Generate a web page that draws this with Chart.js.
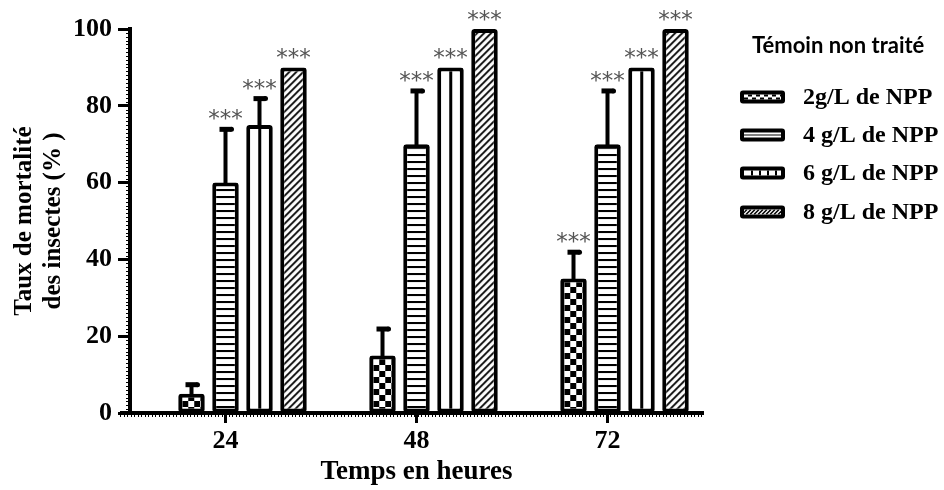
<!DOCTYPE html>
<html><head><meta charset="utf-8">
<script src="https://cdn.jsdelivr.net/npm/chart.js@4/dist/chart.umd.min.js"></script>
<style>html,body{margin:0;padding:0;background:#fff}#wrap{width:944px;height:490px;position:relative}</style>
</head><body><div id="wrap"><canvas id="c" width="944" height="490"></canvas></div>
<script>
// ---------- data ----------
const categories = ['24', '48', '72'];
const seriesNames = ['Témoin non traité', '2g/L de NPP', '4 g/L de NPP', '6 g/L de NPP', '8 g/L de NPP'];
const temoin = [0, 0, 0];
const npp2 = [5, 15, 35];
const npp4 = [60, 70, 70];
const npp6 = [75, 90, 90];
const npp8 = [90, 100, 100];
const err2 = [2.5, 7, 7];
const err4 = [14, 14, 14];
const err6 = [7, 0, 0];
const err8 = [0, 0, 0];
const stars2 = ['', '', '***'];
const stars4 = ['***', '***', '***'];
const stars6 = ['***', '***', '***'];
const stars8 = ['***', '***', '***'];
const yTicks = [0, 20, 40, 60, 80, 100];
const xTitle = 'Temps en heures';
const yTitle = ['Taux de mortalité', 'des insectes (% )'];

// ---------- styling ----------
const SERIF = '"Liberation Serif", "Times New Roman", serif';
const CAT_PCT = 0.89, BAR_PCT = 0.78, BORDER = 4;

function makePattern(kind) {
  const c = document.createElement('canvas');
  let g;
  if (kind === 'checker') {
    c.width = 12; c.height = 12; g = c.getContext('2d');
    g.fillStyle = '#fff'; g.fillRect(0, 0, 12, 12);
    g.fillStyle = '#000'; g.fillRect(0, 0, 6, 6); g.fillRect(6, 6, 6, 6);
  } else if (kind === 'hlines') {
    c.width = 4; c.height = 7; g = c.getContext('2d');
    g.fillStyle = '#fff'; g.fillRect(0, 0, 4, 7);
    g.fillStyle = '#000'; g.fillRect(0, 0, 4, 2);
  } else if (kind === 'vline') {
    c.width = 19; c.height = 4; g = c.getContext('2d');
    g.fillStyle = '#fff'; g.fillRect(0, 0, 19, 4);
    g.fillStyle = '#000'; g.fillRect(8, 0, 3, 4);
  } else {
    c.width = 7; c.height = 7; g = c.getContext('2d');
    g.fillStyle = '#fff'; g.fillRect(0, 0, 7, 7);
    g.strokeStyle = '#000'; g.lineWidth = 1.8;
    g.beginPath();
    g.moveTo(-1, 8); g.lineTo(8, -1);
    g.moveTo(-1, 1); g.lineTo(1, -1);
    g.moveTo(6, 8); g.lineTo(8, 6);
    g.stroke();
  }
  return g.createPattern(c, 'repeat');
}

function bgFor(kind) {
  return (ctx) => {
    const p = makePattern(kind);
    const chart = ctx.chart;
    const xs = chart.scales.x, ys = chart.scales.y;
    if (!xs || !ys || ctx.dataIndex === undefined) return p;
    const cw = (xs.right - xs.left) / categories.length;
    const slot = cw * CAT_PCT / seriesNames.length;
    const cx = xs.getPixelForValue(ctx.dataIndex) + (ctx.datasetIndex - (seriesNames.length - 1) / 2) * slot;
    const bw = slot * BAR_PCT;
    const left = cx - bw / 2 + BORDER;
    const base = ys.getPixelForValue(0);
    try { p.setTransform(new DOMMatrix().translate(left, base)); } catch (e) {}
    return p;
  };
}

const values = [npp2, npp4, npp6, npp8];
const errors = [err2, err4, err6, err8];
const stars = [stars2, stars4, stars6, stars8];
const kinds = ['checker', 'hlines', 'vline', 'diag'];

const datasets = [{
  label: seriesNames[0], data: temoin, backgroundColor: 'rgba(0,0,0,0)', borderWidth: 0,
  categoryPercentage: CAT_PCT, barPercentage: BAR_PCT
}].concat(values.map((v, k) => ({
  label: seriesNames[k + 1], data: v,
  backgroundColor: bgFor(kinds[k]), borderColor: '#000', borderWidth: BORDER,
  borderRadius: 3, borderSkipped: false,
  categoryPercentage: CAT_PCT, barPercentage: BAR_PCT
})));

// error bars, significance stars, axis texture, legend
const extras = {
  id: 'extras',
  afterDatasetsDraw(chart) {
    const ctx = chart.ctx, ys = chart.scales.y;
    ctx.save();
    values.forEach((vals, k) => {
      const meta = chart.getDatasetMeta(k + 1);
      meta.data.forEach((el, i) => {
        const e = errors[k][i];
        const topV = vals[i] + e;
        const yTop = ys.getPixelForValue(topV);
        if (e > 0) {
          ctx.fillStyle = '#000';
          ctx.fillRect(el.x - 2, yTop, 4, el.y - yTop + 2);
          ctx.fillRect(el.x - 6, yTop - 2, 12, 5);
          ctx.beginPath(); ctx.arc(el.x + 6, yTop + 0.5, 2.5, 0, Math.PI * 2); ctx.fill();
        }
        const s = stars[k][i];
        if (s) {
          ctx.fillStyle = '#555';
          ctx.font = '23px "DejaVu Sans", sans-serif';
          ctx.textAlign = 'center'; ctx.textBaseline = 'alphabetic';
          const m = ctx.measureText(s);
          const target = yTop - 14;
          ctx.fillText(s, el.x, target + (m.actualBoundingBoxAscent - m.actualBoundingBoxDescent) / 2);
        }
      });
    });
    ctx.restore();
  },
  afterDraw(chart) {
    const ctx = chart.ctx, ys = chart.scales.y;
    const a = chart.chartArea;
    ctx.save();
    // extension of the x axis to the left
    ctx.fillStyle = '#000';
    ctx.fillRect(a.left - 10, a.bottom - 2, 12, 4);
    // fine ruler marks on axes
    ctx.strokeStyle = '#000'; ctx.lineWidth = 1;
    for (let v = 0; v <= 100; v += 1) {
      const y = Math.round(ys.getPixelForValue(v)) + 0.5;
      ctx.beginPath(); ctx.moveTo(a.left - 4, y); ctx.lineTo(a.left - 1, y); ctx.stroke();
    }
    for (let x = a.left - 10; x <= a.right; x += 3.5) {
      const xx = Math.round(x) + 0.5;
      ctx.beginPath(); ctx.moveTo(xx, a.bottom + 1); ctx.lineTo(xx, a.bottom + 4); ctx.stroke();
    }
    // legend
    const lx = 740, sw = 45, sh = 13;
    ctx.fillStyle = '#000';
    ctx.font = 'bold 22px Lato, "Open Sans", sans-serif';
    ctx.textAlign = 'left'; ctx.textBaseline = 'middle';
    ctx.fillText(seriesNames[0], 752, 46);
    const ly = [97, 135, 173, 212];
    for (let k = 0; k < 4; k++) {
      const y = ly[k];
      const x0 = lx, y0 = y - sh / 2;
      ctx.fillStyle = '#000';
      ctx.beginPath(); ctx.roundRect(x0, y0, sw, sh, 3); ctx.fill();
      const ix = x0 + 4, iy = y0 + 4, iw = sw - 8, ih = sh - 8;
      ctx.fillStyle = '#fff'; ctx.fillRect(ix, iy, iw, ih);
      ctx.fillStyle = '#000';
      if (k === 0) {
        for (let j = 0; j < iw; j += 4) { if ((j / 4) % 2 === 0) ctx.fillRect(ix + j, iy + 3, 4, 2); else ctx.fillRect(ix + j, iy, 4, 2); }
      } else if (k === 1) {
        ctx.fillRect(ix, iy + 2, iw, 1);
      } else if (k === 2) {
        for (let j = 7; j < iw; j += 8) ctx.fillRect(ix + j, iy, 2, ih);
      } else {
        ctx.save(); ctx.beginPath(); ctx.rect(ix, iy, iw, ih); ctx.clip();
        ctx.strokeStyle = '#000'; ctx.lineWidth = 1.5;
        for (let j = -6; j < iw + 6; j += 4) { ctx.beginPath(); ctx.moveTo(ix + j, iy + ih); ctx.lineTo(ix + j + ih, iy); ctx.stroke(); }
        ctx.restore();
      }
      ctx.fillStyle = '#000';
      ctx.font = 'bold 24px ' + SERIF;
      ctx.fillText(seriesNames[k + 1], 803, y + 1);
    }
    ctx.restore();
  }
};

new Chart(document.getElementById('c'), {
  type: 'bar',
  data: { labels: categories, datasets },
  options: {
    responsive: false, animation: false,
    devicePixelRatio: 1,
    layout: { padding: { left: 0, top: 29, right: 241, bottom: 0 } },
    plugins: { legend: { display: false }, tooltip: { enabled: false } },
    scales: {
      x: {
        offset: true,
        grid: { display: true, offset: false, drawOnChartArea: false, drawTicks: true, tickLength: 10, tickWidth: 3, tickColor: '#000' },
        border: { display: true, width: 4, color: '#000' },
        ticks: { color: '#000', font: { family: SERIF, size: 26, weight: 'bold' }, padding: 3 },
        title: { display: true, text: xTitle, color: '#000', font: { family: SERIF, size: 27, weight: 'bold', lineHeight: 1.2 }, padding: { bottom: 2 } },
        afterFit(s) { s.height = 77; }
      },
      y: {
        min: 0, max: 100,
        afterBuildTicks(s) { s.ticks = yTicks.map(v => ({ value: v })); },
        grid: { display: true, drawOnChartArea: false, drawTicks: true, tickLength: 12, tickWidth: 3, tickColor: '#000' },
        border: { display: true, width: 4, color: '#000' },
        ticks: { color: '#000', font: { family: SERIF, size: 26, weight: 'bold' }, padding: 6 },
        title: { display: true, text: yTitle, color: '#000', font: { family: SERIF, size: 25, weight: 'bold', lineHeight: 1.16 }, padding: { top: 10 } },
        afterFit(s) { s.width = 130; }
      }
    }
  },
  plugins: [extras]
});
</script>
</body></html>
